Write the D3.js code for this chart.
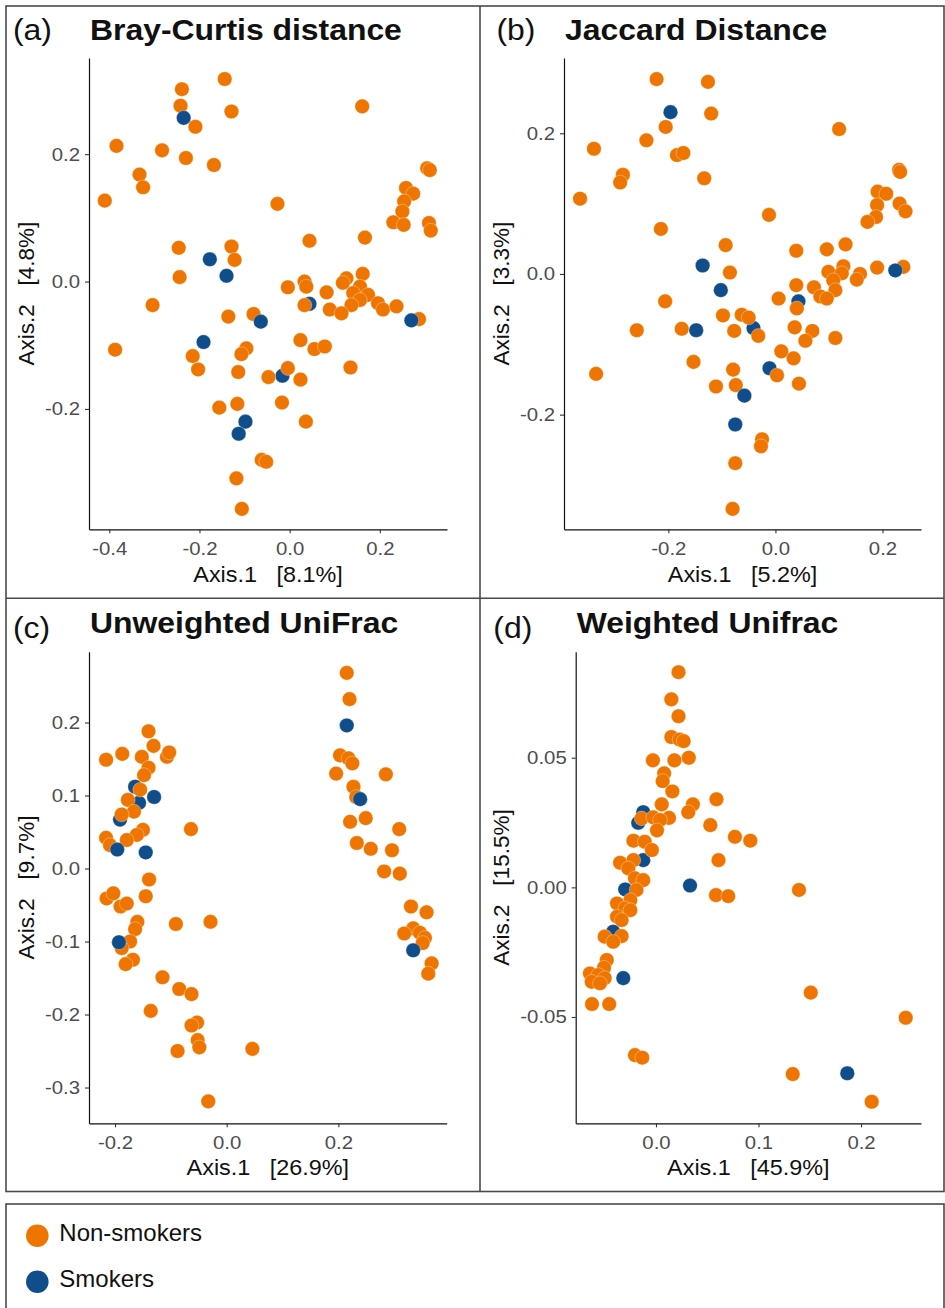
<!DOCTYPE html>
<html>
<head>
<meta charset="utf-8">
<script src="https://cdn.jsdelivr.net/npm/d3@7"></script>
<style>
  html, body { margin: 0; padding: 0; background: #fff; }
  svg { display: block; font-family: "Liberation Sans", Arial, sans-serif; }
  .axis-title { white-space: pre; }
</style>
</head>
<body>
<div id="chart"></div>
<script>
// group 0 = Non-smokers, group 1 = Smokers
const GROUPS = ["Non-smokers", "Smokers"];
const GROUP_COLOR = ["#EE7600", "#104E8B"];

const PANEL_LABELS = ["(a)", "(b)", "(c)", "(d)"];
const PANEL_TITLES = ["Bray-Curtis distance", "Jaccard Distance", "Unweighted UniFrac", "Weighted Unifrac"];
const AXIS1_PCT = ["8.1%", "5.2%", "26.9%", "45.9%"];
const AXIS2_PCT = ["4.8%", "3.3%", "9.7%", "15.5%"];

const X_DOMAINS = [[-0.445, 0.349], [-0.395, 0.272], [-0.2466, 0.394], [-0.0783, 0.2585]];
const Y_DOMAINS = [[-0.389, 0.351], [-0.363, 0.307], [-0.349, 0.297], [-0.091, 0.0909]];

const X_TICKS = [[-0.4, -0.2, 0, 0.2], [-0.2, 0, 0.2], [-0.2, 0, 0.2], [0, 0.1, 0.2]];
const X_TICK_LABELS = [["-0.4", "-0.2", "0.0", "0.2"], ["-0.2", "0.0", "0.2"], ["-0.2", "0.0", "0.2"], ["0.0", "0.1", "0.2"]];
const Y_TICKS = [[-0.2, 0, 0.2], [-0.2, 0, 0.2], [-0.3, -0.2, -0.1, 0, 0.1, 0.2], [-0.05, 0, 0.05]];
const Y_TICK_LABELS = [["-0.2", "0.0", "0.2"], ["-0.2", "0.0", "0.2"], ["-0.3", "-0.2", "-0.1", "0.0", "0.1", "0.2"], ["-0.05", "0.00", "0.05"]];

// [axis1, axis2, group] in drawing order
const BRAY_POINTS = [
  [0.044, -0.035, 1], [-0.016, -0.148, 1],
  [-0.144, 0.318, 0], [-0.239, 0.302, 0], [-0.242, 0.276, 0], [-0.129, 0.267, 0], [-0.209, 0.243, 0], [0.161, 0.275, 0],
  [-0.384, 0.213, 0], [-0.283, 0.206, 0], [-0.230, 0.194, 0], [-0.168, 0.183, 0], [0.305, 0.178, 0], [0.311, 0.175, 0],
  [-0.333, 0.168, 0], [-0.325, 0.148, 0], [-0.410, 0.127, 0], [-0.027, 0.122, 0], [0.258, 0.147, 0], [0.274, 0.138, 0],
  [0.254, 0.126, 0], [0.250, 0.110, 0], [0.230, 0.093, 0], [0.253, 0.089, 0], [0.309, 0.092, 0], [0.313, 0.080, 0],
  [0.044, 0.064, 0], [0.167, 0.069, 0], [-0.246, 0.053, 0], [-0.129, 0.055, 0], [-0.122, 0.034, 0], [-0.244, 0.007, 0],
  [-0.004, -0.009, 0], [0.033, 0.000, 0], [0.037, -0.008, 0], [0.082, -0.017, 0], [0.126, 0.005, 0], [0.118, -0.002, 0],
  [0.162, 0.012, 0], [0.156, -0.008, 0], [0.141, -0.018, 0], [0.174, -0.021, 0], [0.156, -0.029, 0], [0.137, -0.037, 0],
  [0.196, -0.034, 0], [0.207, -0.044, 0], [0.237, -0.039, 0], [0.089, -0.044, 0], [0.115, -0.050, 0], [0.033, -0.037, 0],
  [0.287, -0.059, 0], [-0.304, -0.037, 0], [-0.136, -0.055, 0], [-0.080, -0.051, 0], [-0.387, -0.107, 0], [-0.215, -0.117, 0],
  [-0.203, -0.138, 0], [-0.096, -0.105, 0], [-0.107, -0.114, 0], [0.024, -0.092, 0], [0.055, -0.106, 0], [0.078, -0.102, 0],
  [0.135, -0.135, 0], [-0.114, -0.142, 0], [-0.004, -0.136, 0], [-0.047, -0.150, 0], [0.024, -0.154, 0], [-0.156, -0.198, 0],
  [-0.116, -0.192, 0], [-0.017, -0.190, 0], [0.036, -0.220, 0], [-0.062, -0.280, 0], [-0.052, -0.283, 0], [-0.118, -0.309, 0],
  [-0.106, -0.357, 0],
  [-0.235, 0.257, 1], [-0.177, 0.035, 1], [-0.140, 0.009, 1], [0.270, -0.061, 1], [-0.064, -0.063, 1], [-0.191, -0.095, 1],
  [-0.098, -0.220, 1], [-0.113, -0.239, 1],
];

const JACCARD_POINTS = [
  [0.043, -0.039, 1], [-0.041, -0.077, 1], [-0.011, -0.134, 1],
  [-0.222, 0.277, 0], [-0.126, 0.273, 0], [-0.120, 0.228, 0], [-0.205, 0.209, 0], [0.119, 0.206, 0], [-0.241, 0.190, 0],
  [-0.339, 0.178, 0], [-0.184, 0.169, 0], [-0.172, 0.172, 0], [-0.133, 0.136, 0], [-0.285, 0.141, 0], [-0.290, 0.130, 0],
  [0.231, 0.148, 0], [0.233, 0.145, 0], [-0.365, 0.107, 0], [0.191, 0.117, 0], [0.207, 0.114, 0], [0.190, 0.098, 0],
  [0.188, 0.081, 0], [0.172, 0.074, 0], [0.232, 0.100, 0], [0.243, 0.089, 0], [-0.012, 0.084, 0], [-0.214, 0.064, 0],
  [-0.093, 0.041, 0], [0.039, 0.033, 0], [0.096, 0.035, 0], [0.131, 0.042, 0], [-0.085, 0.002, 0], [0.190, 0.009, 0],
  [0.239, 0.010, 0], [0.099, 0.003, 0], [0.127, 0.011, 0], [0.124, 0.001, 0], [0.158, 0.000, 0], [0.152, -0.008, 0],
  [0.108, -0.009, 0], [0.112, -0.023, 0], [0.039, -0.016, 0], [0.072, -0.019, 0], [0.084, -0.032, 0], [0.096, -0.035, 0],
  [0.006, -0.035, 0], [0.040, -0.049, 0], [-0.206, -0.039, 0], [-0.259, -0.080, 0], [-0.175, -0.078, 0], [-0.098, -0.059, 0],
  [-0.063, -0.058, 0], [-0.050, -0.062, 0], [-0.077, -0.081, 0], [-0.032, -0.088, 0], [0.036, -0.076, 0], [0.069, -0.081, 0],
  [0.056, -0.095, 0], [0.112, -0.091, 0], [-0.153, -0.125, 0], [0.011, -0.110, 0], [0.034, -0.120, 0], [-0.335, -0.142, 0],
  [-0.079, -0.136, 0], [-0.074, -0.158, 0], [-0.111, -0.160, 0], [0.003, -0.144, 0], [0.044, -0.156, 0], [-0.025, -0.235, 0],
  [-0.027, -0.245, 0], [-0.075, -0.269, 0], [-0.080, -0.334, 0],
  [-0.196, 0.230, 1], [-0.136, 0.012, 1], [0.224, 0.005, 1], [-0.102, -0.023, 1], [-0.148, -0.080, 1], [-0.058, -0.173, 1],
  [-0.075, -0.214, 1],
];

const UNWEIGHTED_POINTS = [
  [-0.164, 0.112, 1], [-0.157, 0.090, 1], [-0.191, 0.067, 1],
  [0.215, 0.268, 0], [0.220, 0.232, 0], [0.203, 0.155, 0], [0.218, 0.151, 0], [0.225, 0.144, 0], [0.196, 0.130, 0],
  [0.285, 0.129, 0], [0.227, 0.112, 0], [0.232, 0.098, 0], [0.249, 0.069, 0], [0.221, 0.064, 0], [0.233, 0.035, 0],
  [0.258, 0.027, 0], [0.309, 0.054, 0], [0.296, 0.025, 0], [0.282, -0.004, 0], [0.310, -0.007, 0], [0.330, -0.052, 0],
  [0.358, -0.060, 0], [0.334, -0.082, 0], [0.318, -0.089, 0], [0.346, -0.088, 0], [0.355, -0.095, 0], [0.351, -0.102, 0],
  [0.367, -0.130, 0], [0.361, -0.144, 0],
  [-0.140, 0.188, 0], [-0.131, 0.168, 0], [-0.216, 0.149, 0], [-0.187, 0.157, 0], [-0.152, 0.153, 0], [-0.107, 0.153, 0],
  [-0.103, 0.159, 0], [-0.140, 0.138, 0], [-0.148, 0.128, 0], [-0.155, 0.108, 0], [-0.177, 0.094, 0], [-0.166, 0.078, 0],
  [-0.188, 0.074, 0], [-0.064, 0.054, 0], [-0.150, 0.053, 0], [-0.161, 0.046, 0], [-0.179, 0.039, 0], [-0.216, 0.042, 0],
  [-0.209, 0.032, 0], [-0.139, -0.015, 0], [-0.145, -0.038, 0], [-0.215, -0.041, 0], [-0.203, -0.034, 0], [-0.190, -0.052, 0],
  [-0.179, -0.048, 0], [-0.160, -0.073, 0], [-0.164, -0.083, 0], [-0.091, -0.076, 0], [-0.029, -0.073, 0], [-0.173, -0.100, 0],
  [-0.188, -0.109, 0], [-0.168, -0.125, 0], [-0.181, -0.131, 0], [-0.115, -0.149, 0], [-0.085, -0.165, 0], [-0.063, -0.172, 0],
  [-0.136, -0.195, 0], [-0.053, -0.211, 0], [-0.063, -0.215, 0], [-0.052, -0.235, 0], [-0.049, -0.245, 0], [-0.088, -0.250, 0],
  [0.046, -0.247, 0], [-0.033, -0.319, 0],
  [0.215, 0.196, 1], [0.239, 0.095, 1], [0.334, -0.112, 1], [-0.130, 0.098, 1], [-0.196, 0.026, 1], [-0.145, 0.022, 1],
  [-0.193, -0.101, 1],
];

const WEIGHTED_POINTS = [
  [-0.0124, 0.029, 1], [-0.0173, 0.0249, 1], [-0.0124, 0.0105, 1], [-0.030, -0.0008, 1], [-0.0417, -0.0171, 1],
  [0.022, 0.083, 0], [0.015, 0.0725, 0], [0.022, 0.066, 0], [0.015, 0.058, 0], [0.023, 0.057, 0], [0.027, 0.0564, 0],
  [-0.003, 0.049, 0], [0.018, 0.049, 0], [0.032, 0.050, 0], [0.008, 0.044, 0], [0.0065, 0.041, 0], [0.016, 0.037, 0],
  [0.059, 0.034, 0], [0.0056, 0.032, 0], [0.036, 0.032, 0], [0.0315, 0.029, 0], [-0.014, 0.0266, 0], [0.0127, 0.0268, 0],
  [-0.0026, 0.027, 0], [0.004, 0.026, 0], [0.001, 0.022, 0], [0.053, 0.024, 0], [0.077, 0.0195, 0], [0.092, 0.018, 0],
  [-0.022, 0.018, 0], [-0.011, 0.0176, 0], [-0.004, 0.0144, 0], [-0.022, 0.0105, 0], [-0.035, 0.0095, 0], [-0.027, 0.0073, 0],
  [0.061, 0.0105, 0], [-0.0205, 0.0035, 0], [-0.0124, 0.0028, 0], [-0.019, -0.001, 0], [0.1395, -0.001, 0], [0.0585, -0.003, 0],
  [0.0705, -0.0034, 0], [-0.025, -0.0049, 0], [-0.038, -0.0062, 0], [-0.030, -0.0081, 0], [-0.025, -0.0088, 0], [-0.038, -0.0113, 0],
  [-0.0335, -0.0126, 0], [-0.050, -0.019, 0], [-0.0335, -0.0188, 0], [-0.0417, -0.021, 0], [-0.048, -0.028, 0], [-0.0507, -0.031, 0],
  [-0.0644, -0.0332, 0], [-0.0563, -0.0338, 0], [-0.050, -0.035, 0], [-0.0627, -0.0364, 0], [-0.0546, -0.037, 0], [-0.0624, -0.045, 0],
  [-0.0456, -0.045, 0], [-0.0205, -0.0647, 0], [-0.0134, -0.0657, 0], [0.151, -0.0406, 0], [0.2436, -0.0503, 0], [0.1334, -0.072, 0],
  [0.2104, -0.0827, 0],
  [0.0332, 0.0007, 1], [-0.0319, -0.035, 1], [0.1866, -0.0717, 1],
];

const PANEL_POINTS = [BRAY_POINTS, JACCARD_POINTS, UNWEIGHTED_POINTS, WEIGHTED_POINTS];

// pixel frame of each plot area and its text anchors
const FRAMES = [
  { left: 89, right: 447, top: 58, bottom: 529.3, labelX: 13, labelY: 39.5, titleY: 39.5, xTitleY: 581.7, yTitleX: 34.3 },
  { left: 564, right: 921, top: 58, bottom: 529.3, labelX: 496.5, labelY: 39.5, titleY: 39.5, xTitleY: 581.7, yTitleX: 509.3 },
  { left: 89, right: 446.7, top: 651.7, bottom: 1123.3, labelX: 13, labelY: 637.7, titleY: 633.3, xTitleY: 1175, yTitleX: 34.3 },
  { left: 575.7, right: 921, top: 651.7, bottom: 1123.3, labelX: 493.3, labelY: 637.7, titleY: 633.3, xTitleY: 1175, yTitleX: 509.3 },
];

const W = 945, H = 1308;
const DOT_R = 7.3;
const STRETCH = 1.1; // the panels' lettering is a little wider than plain Arial

const svg = d3.select("#chart").append("svg")
  .attr("width", W).attr("height", H)
  .attr("viewBox", `0 0 ${W} ${H}`);

svg.append("rect").attr("width", W).attr("height", H).attr("fill", "#fff");

// panel frame lines
const frameColor = "#4a4a4a";
const frame = svg.append("g").attr("fill", "none").attr("stroke", frameColor).attr("stroke-width", 1.6);
frame.append("rect").attr("x", 6).attr("y", 6).attr("width", 938).attr("height", 1185.5);
frame.append("line").attr("x1", 480).attr("x2", 480).attr("y1", 6).attr("y2", 1191.5);
frame.append("line").attr("x1", 6).attr("x2", 944).attr("y1", 598.3).attr("y2", 598.3);
frame.append("rect").attr("x", 6).attr("y", 1204).attr("width", 938).attr("height", 120);

function drawPanel(i) {
  const f = FRAMES[i];
  const x = d3.scaleLinear().domain(X_DOMAINS[i]).range([f.left, f.right]);
  const y = d3.scaleLinear().domain(Y_DOMAINS[i]).range([f.bottom, f.top]);
  const g = svg.append("g").attr("class", "panel");

  const xAxis = d3.axisBottom(x)
    .tickValues(X_TICKS[i])
    .tickFormat((d, k) => X_TICK_LABELS[i][k])
    .tickSizeOuter(0).tickSizeInner(4).tickPadding(8.5);
  const yAxis = d3.axisLeft(y)
    .tickValues(Y_TICKS[i])
    .tickFormat((d, k) => Y_TICK_LABELS[i][k])
    .tickSizeOuter(0).tickSizeInner(4).tickPadding(5);

  const gx = g.append("g").attr("transform", `translate(0,${f.bottom})`).call(xAxis);
  const gy = g.append("g").attr("transform", `translate(${f.left},0)`).call(yAxis);
  [gx, gy].forEach((ax) => {
    ax.select(".domain").attr("stroke", "#111").attr("stroke-width", 1.2);
    ax.selectAll(".tick line").attr("stroke", "#333").attr("stroke-width", 1.1);
    ax.selectAll(".tick text")
      .attr("fill", "#4d4d4d")
      .attr("font-size", 18.5)
      .attr("font-family", "Liberation Sans, Arial, sans-serif");
  });
  // widen tick labels around their anchor
  gx.selectAll(".tick text").attr("transform", `scale(${STRETCH},1)`);
  gy.selectAll(".tick text").attr("transform", `scale(${STRETCH},1)`)
    .attr("x", -9 / STRETCH);

  g.append("g").selectAll("circle")
    .data(PANEL_POINTS[i])
    .join("circle")
    .attr("cx", (d) => x(d[0]))
    .attr("cy", (d) => y(d[1]))
    .attr("r", DOT_R)
    .attr("fill", (d) => GROUP_COLOR[d[2]])
    .attr("stroke", "#fff")
    .attr("stroke-opacity", 0.45)
    .attr("stroke-width", 0.7);

  g.append("text")
    .attr("transform", `translate(${f.labelX},${f.labelY}) scale(${STRETCH},1)`)
    .attr("font-size", 29)
    .attr("fill", "#111")
    .text(PANEL_LABELS[i]);

  g.append("text")
    .attr("transform", `translate(${f.left + 1},${f.titleY}) scale(${STRETCH},1)`)
    .attr("font-size", 29).attr("font-weight", "bold")
    .attr("fill", "#111")
    .text(PANEL_TITLES[i]);

  g.append("text")
    .attr("class", "axis-title")
    .attr("transform", `translate(${(f.left + f.right) / 2},${f.xTitleY}) scale(1.04,1)`)
    .attr("text-anchor", "middle")
    .attr("font-size", 22.5)
    .attr("fill", "#111")
    .text(`Axis.1   [${AXIS1_PCT[i]}]`);

  g.append("text")
    .attr("class", "axis-title")
    .attr("transform", `translate(${f.yTitleX},${(f.top + f.bottom) / 2}) rotate(-90)`)
    .attr("text-anchor", "middle")
    .attr("font-size", 22.5)
    .attr("fill", "#111")
    .text(`Axis.2   [${AXIS2_PCT[i]}]`);
}

d3.range(4).forEach(drawPanel);

// legend
const legend = svg.append("g").attr("transform", "translate(37.3,1235.7)");
const items = legend.selectAll("g")
  .data(GROUPS)
  .join("g")
  .attr("transform", (d, k) => `translate(0,${k * 46})`);
items.append("circle").attr("r", 11.3).attr("fill", (d, k) => GROUP_COLOR[k]);
items.append("text")
  .attr("x", 22).attr("y", 5.5)
  .attr("font-size", 24)
  .attr("fill", "#111")
  .text((d) => d);
</script>
</body>
</html>
